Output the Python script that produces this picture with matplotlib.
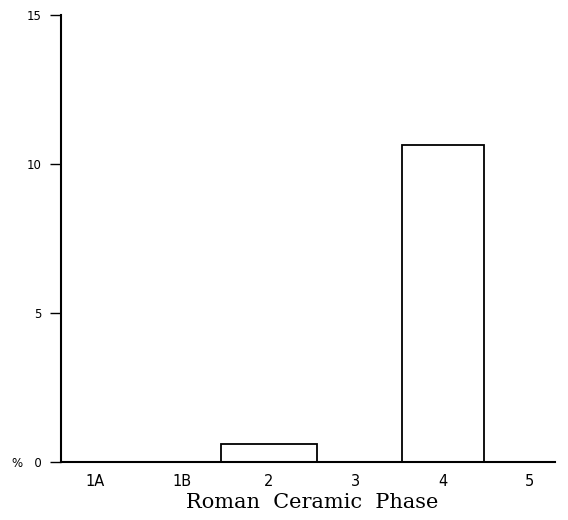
import matplotlib
matplotlib.use("Agg")
import matplotlib.pyplot as plt

categories = ["1A", "1B", "2", "3", "4", "5"]
values = [0.0, 0.0, 0.6, 0.0, 10.65, 0.0]
yticks = [0, 5, 10, 15]
ytick_labels = ["%   0", "5", "10", "15"]
xlabel = "Roman  Ceramic  Phase"

fig = plt.figure(figsize=(5.68, 5.2), dpi=100)
ax = fig.add_axes([61/568, 1-462/520, (555-61)/568, (462-15)/520])

x = list(range(len(categories)))
bar_widths = {2: 1.1, 4: 0.94}
for xi, v in zip(x, values):
    if v > 0:
        ax.bar(xi, v, width=bar_widths.get(xi, 1.0), facecolor="white",
               edgecolor="black", linewidth=1.3)

ax.set_xlim(-0.39, 5.29)
ax.set_ylim(0, 15)
ax.set_xticks(x)
ax.set_xticklabels(categories, fontsize=10.5, family="DejaVu Sans")
ax.tick_params(axis="x", length=0, pad=9)
ax.set_yticks(yticks)
ax.set_yticklabels(ytick_labels, fontsize=8.5, family="DejaVu Sans")
ax.tick_params(axis="y", length=8, width=1, direction="out", pad=6)

for s in ["top", "right"]:
    ax.spines[s].set_visible(False)
for s in ["left", "bottom"]:
    ax.spines[s].set_linewidth(1.5)

fig.text(312/568, 1-508/520, xlabel, fontsize=15, family="DejaVu Serif",
         ha="center", va="baseline")

fig.savefig("out.png", dpi=100)
